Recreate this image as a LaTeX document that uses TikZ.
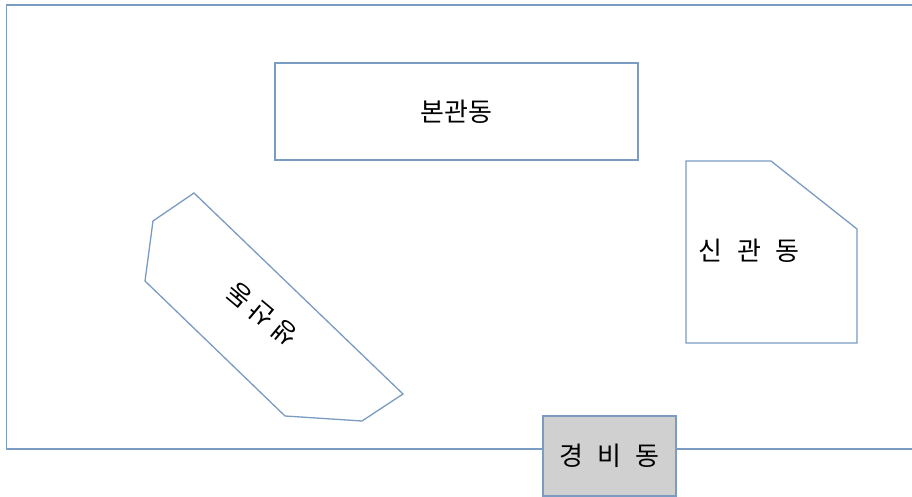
\documentclass[tikz,border=0pt]{standalone}
\usepackage{fontspec}
\setmainfont{Noto Sans CJK KR}
\usetikzlibrary{positioning}
\definecolor{lineSite}{HTML}{7A9BC2}
\definecolor{fillGuard}{HTML}{D0D0D1}
\newcommand{\bgap}{\hspace{0.55em}}

\begin{document}
\begin{tikzpicture}[x=0.5pt,y=-0.5pt,
  outline/.style={draw=lineSite,line width=0.65pt,line join=miter},
  bldg/.style={outline,fill=white,inner sep=0pt},
  lbl/.style={font=\fontsize{13}{15}\selectfont,inner sep=1pt}
]
  \useasboundingbox (0,0) rectangle (912,497);

  % --- site boundary (open to the right) ---
  \coordinate (B1) at (912,5);
  \coordinate (B2) at (6.5,5);
  \coordinate (B3) at (6.5,449);
  \coordinate (B4) at (912,449);
  \draw[outline] (B1) -- (B2) -- (B3) -- (B4);

  % --- main building ---
  \node[bldg,lbl,minimum width=181.5pt,minimum height=48.5pt] (main) at (456.5,111.5) {본관동};

  % --- new building, cut corner top right ---
  \coordinate (N1) at (686,161);
  \coordinate (N2) at (771,161);
  \coordinate (N3) at (857,229);
  \coordinate (N4) at (857,343);
  \coordinate (N5) at (686,343);
  \draw[bldg] (N1) -- (N2) -- (N3) -- (N4) -- (N5) -- cycle;
  \node[lbl] (new) at (749,251) {신\bgap 관\bgap 동};

  % --- production building (tilted) ---
  \coordinate (P1) at (194,193);
  \coordinate (P2) at (153,221);
  \coordinate (P3) at (145,281);
  \coordinate (P4) at (285,416);
  \coordinate (P5) at (362,421);
  \coordinate (P6) at (403,394);
  \draw[bldg] (P1) -- (P2) -- (P3) -- (P4) -- (P5) -- (P6) -- cycle;
  \node[lbl,rotate=140] (prod) at (262,314) {생 산 동};

  % --- guard house on the boundary ---
  \node[bldg,lbl,fill=fillGuard,minimum width=66.5pt,minimum height=40pt] (guard) at (609.5,456) {경\bgap 비\bgap 동};
\end{tikzpicture}
\end{document}
